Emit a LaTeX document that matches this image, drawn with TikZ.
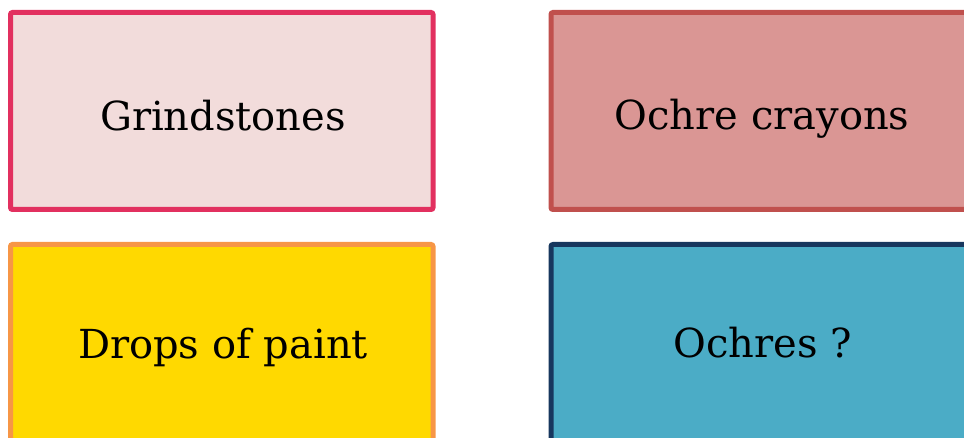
\documentclass[tikz,border=0pt]{standalone}
\usepackage{fontspec}
\setmainfont{DejaVu Serif}
\definecolor{fillA}{HTML}{F2DCDB}
\definecolor{lineA}{HTML}{E2305F}
\definecolor{fillB}{HTML}{DA9694}
\definecolor{lineB}{HTML}{C0504D}
\definecolor{fillC}{HTML}{FFD900}
\definecolor{lineC}{HTML}{F79646}
\definecolor{fillD}{HTML}{4BACC6}
\definecolor{lineD}{HTML}{17375E}
\tikzset{
  card/.style={line width=5pt, rounded corners=2pt},
  cardtext/.style={font=\fontsize{40}{44}\selectfont, text=black, anchor=base, inner sep=0pt}
}
\begin{document}
\begin{tikzpicture}[x=1pt,y=-1pt]
\useasboundingbox (0,0) rectangle (964,438);
\draw[card, draw=lineA, fill=fillA] (10.5,12.5) rectangle (433,209.5);
\draw[card, draw=lineB, fill=fillB] (551,12.5) rectangle (973.5,209.5);
\draw[card, draw=lineC, fill=fillC] (10.5,244.5) rectangle (433,441.5);
\draw[card, draw=lineD, fill=fillD] (551,244.5) rectangle (973.5,441.5);
\node[cardtext] (a) at (223,131) {Grindstones};
\node[cardtext] (b) at (762,130) {Ochre crayons};
\node[cardtext] (c) at (223,359) {Drops of paint};
\node[cardtext] (d) at (763,358) {Ochres ?};
\end{tikzpicture}
\end{document}
